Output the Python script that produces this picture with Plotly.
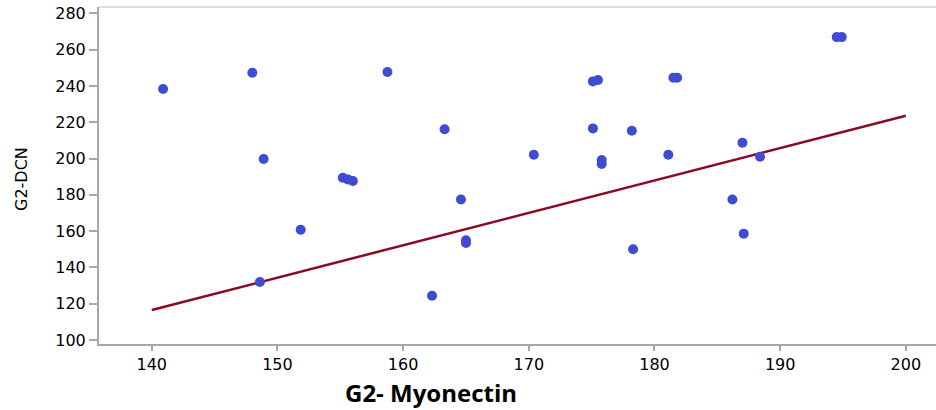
import plotly.graph_objects as go

# Paired observations: G2 Myonectin vs G2 DCN
myonectin = [140.9, 148.0, 148.9, 148.6, 151.85, 158.75, 163.3,
             155.2, 155.6, 156.0, 164.6, 165.0, 165.0, 162.3,
             170.4, 178.3, 175.1, 175.5, 175.1, 175.8, 175.8,
             178.2, 181.5, 181.8, 181.1, 194.5, 194.9, 187.0,
             188.4, 186.2, 187.1]
dcn = [238.3, 247.3, 199.7, 132.0, 160.8, 247.7, 216.1,
       189.4, 188.5, 187.6, 177.4, 155.0, 153.5, 124.4,
       202.1, 150.0, 242.5, 243.3, 216.6, 199.2, 197.0,
       215.3, 244.5, 244.5, 202.1, 266.9, 266.9, 208.7,
       201.0, 177.4, 158.6]

# Fitted line end points
fit_x = [140, 200]
fit_y = [116.5, 223.6]

x_ticks = [140, 150, 160, 170, 180, 190, 200]
y_ticks = [100, 120, 140, 160, 180, 200, 220, 240, 260, 280]

fig = go.Figure()
fig.add_trace(go.Scatter(
    x=fit_x, y=fit_y, mode="lines",
    line=dict(color="#8a0a24", width=2.5),
    hoverinfo="skip", showlegend=False))
fig.add_trace(go.Scatter(
    x=myonectin, y=dcn, mode="markers",
    marker=dict(color="#3f4cd2", size=10, line=dict(width=0)),
    showlegend=False))

tick_font = dict(family="DejaVu Sans, sans-serif", size=16, color="#000000")
fig.update_xaxes(
    range=[135.8, 202.4], tickvals=x_ticks, ticks="outside", ticklen=5,
    tickwidth=2, tickcolor="#a8a8a8", showline=True, linecolor="#a8a8a8",
    linewidth=2, showgrid=False, zeroline=False, tickfont=tick_font)
fig.update_yaxes(
    range=[97.8, 283.5], tickvals=y_ticks, ticks="outside", ticklen=8,
    tickwidth=2, tickcolor="#a8a8a8", showline=True, linecolor="#a8a8a8",
    linewidth=2, showgrid=False, zeroline=False, tickfont=tick_font)

fig.update_layout(
    width=936, height=410,
    margin=dict(l=99, r=0, t=7, b=66),
    paper_bgcolor="white", plot_bgcolor="white",
    shapes=[dict(type="line", xref="paper", yref="paper",
                 x0=0, x1=1, y0=1, y1=1,
                 line=dict(color="#dddddd", width=2))],
    annotations=[
        dict(text="<b>G2- Myonectin</b>", xref="paper", yref="paper",
             x=(431 - 99) / 837, y=-48 / 337, xanchor="center", yanchor="middle",
             showarrow=False,
             font=dict(family="Open Sans, DejaVu Sans, sans-serif", size=24, color="#000000")),
        dict(text="G2-DCN", xref="paper", yref="paper",
             x=-78 / 837, y=(344 - 179) / 337, xanchor="center", yanchor="middle",
             textangle=-90, showarrow=False,
             font=dict(family="DejaVu Sans, sans-serif", size=16, color="#000000")),
    ],
)

fig.write_html("out.html")
